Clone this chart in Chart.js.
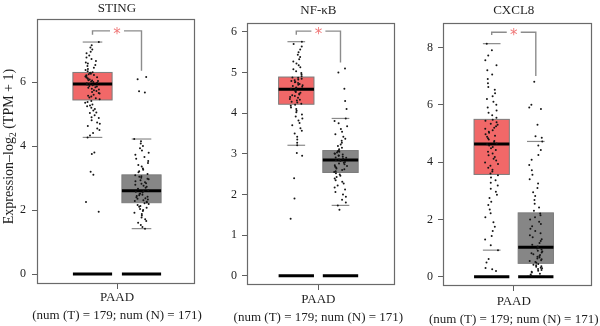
<!DOCTYPE html>
<html>
<head>
<meta charset="utf-8">
<script src="https://cdn.jsdelivr.net/npm/chart.js@4/dist/chart.umd.min.js"></script>
<style>
  html, body { margin: 0; padding: 0; background: #fff; }
  #wrap { position: relative; width: 600px; height: 326px; overflow: hidden; background: #fff; }
  #wrap canvas { position: absolute; top: 0; }
</style>
</head>
<body>
<div id="wrap">
  <canvas id="p0" width="215" height="326" style="left:0px"></canvas>
  <canvas id="p1" width="215" height="326" style="left:200px"></canvas>
  <canvas id="p2" width="200" height="326" style="left:400px"></canvas>
</div>
<script>
// ---- data -------------------------------------------------------------
const genes = ['STING', 'NF-κB', 'CXCL8'];
const groupNames = ['T', 'N'];
const groupPos = [1, 2];
const xTickLabel = ['PAAD', '(num (T) = 179; num (N) = 171)'];
const yAxisTitle = ['Expression–log', '2', ' (TPM + 1)'];
const yTickValues = [[0, 2, 4, 6], [0, 1, 2, 3, 4, 5, 6], [0, 2, 4, 6, 8]];
const yRangeMin = [-0.31, -0.23, -0.32];
const yRangeMax = [7.97, 6.22, 8.85];

// box statistics, one entry per gene
const tumorQ1 = [5.44, 4.22, 3.57];
const tumorMedian = [5.94, 4.59, 4.63];
const tumorQ3 = [6.30, 4.89, 5.49];
const tumorWhiskerLow = [4.27, 3.21, 0.93];
const tumorWhiskerHigh = [7.25, 5.76, 8.13];
const normalQ1 = [2.23, 2.54, 0.47];
const normalMedian = [2.60, 2.85, 1.03];
const normalQ3 = [3.10, 3.08, 2.23];
const normalWhiskerLow = [1.42, 1.73, 0.02];
const normalWhiskerHigh = [4.22, 3.87, 4.72];

// significance bracket levels
const bracketLevel = [7.60, 6.02, 8.53];
const bracketTumorEnd = [7.48, 5.93, 8.43];
const bracketNormalEnd = [6.35, 5.25, 7.00];
const significance = ['*', '*', '*'];

// individual samples, log2(TPM + 1)
const stingTumor = [1.95, 2.25, 3.1, 3.2, 3.75, 3.8,
  4.27, 4.33, 4.41, 4.5, 4.55, 4.63, 4.7, 4.74, 4.81, 4.88, 4.9, 4.96, 5.03, 5.05, 5.11, 5.16, 5.2, 5.24, 5.27, 5.3, 5.35, 5.38, 5.41,
  5.46, 5.49, 5.52, 5.55, 5.57, 5.6, 5.64, 5.66, 5.69, 5.72, 5.74, 5.77, 5.79, 5.82, 5.84, 5.86, 5.88, 5.9, 5.92, 5.93,
  5.95, 5.96, 5.98, 6.0, 6.02, 6.03, 6.05, 6.06, 6.08, 6.1, 6.12, 6.14, 6.15, 6.17, 6.19, 6.21, 6.22, 6.24, 6.26, 6.28, 6.29,
  6.31, 6.34, 6.38, 6.41, 6.45, 6.5, 6.53, 6.58, 6.61, 6.66, 6.72, 6.77, 6.83, 6.9, 6.95, 7.02, 7.08, 7.15, 7.25];
const stingNormal = [1.42, 1.47, 1.53, 1.6, 1.66, 1.71, 1.77, 1.83, 1.88, 1.92, 1.97, 2.0, 2.03, 2.07, 2.1, 2.13, 2.16, 2.19, 2.21,
  2.24, 2.26, 2.28, 2.31, 2.33, 2.35, 2.37, 2.4, 2.42, 2.44, 2.46, 2.48, 2.5, 2.52, 2.55, 2.57, 2.59,
  2.62, 2.65, 2.67, 2.7, 2.73, 2.76, 2.79, 2.82, 2.84, 2.87, 2.9, 2.93, 2.96, 2.98, 3.01, 3.04, 3.06, 3.09,
  3.13, 3.18, 3.21, 3.26, 3.3, 3.36, 3.41, 3.47, 3.53, 3.6, 3.66, 3.73, 3.79, 3.86, 3.93, 4.0, 4.08, 4.15, 4.22,
  5.67, 5.71, 6.09, 6.16];
const nfkbTumor = [1.4, 1.9, 2.4, 2.95, 3.02,
  3.21, 3.27, 3.35, 3.42, 3.5, 3.57, 3.63, 3.7, 3.76, 3.82, 3.87, 3.92, 3.97, 4.02, 4.06, 4.1, 4.14, 4.18, 4.21,
  4.23, 4.26, 4.28, 4.31, 4.33, 4.35, 4.38, 4.4, 4.42, 4.44, 4.46, 4.48, 4.5, 4.52, 4.54, 4.56, 4.58,
  4.6, 4.62, 4.63, 4.65, 4.67, 4.69, 4.7, 4.72, 4.74, 4.76, 4.77, 4.79, 4.81, 4.83, 4.85, 4.87, 4.88,
  4.91, 4.95, 4.99, 5.03, 5.08, 5.13, 5.18, 5.22, 5.27, 5.33, 5.38, 5.44, 5.5, 5.57, 5.64, 5.7, 5.76];
const nfkbNormal = [1.62,
  1.73, 1.8, 1.87, 1.94, 2.0, 2.06, 2.12, 2.17, 2.22, 2.27, 2.31, 2.35, 2.39, 2.43, 2.46, 2.49, 2.52,
  2.55, 2.57, 2.6, 2.62, 2.64, 2.66, 2.68, 2.7, 2.72, 2.74, 2.76, 2.78, 2.8, 2.82, 2.84,
  2.86, 2.88, 2.9, 2.91, 2.93, 2.95, 2.96, 2.98, 3.0, 3.01, 3.03, 3.05, 3.06, 3.08,
  3.11, 3.15, 3.19, 3.23, 3.27, 3.32, 3.37, 3.42, 3.48, 3.54, 3.61, 3.68, 3.75, 3.81, 3.87,
  4.1, 4.3, 4.6, 5.0, 5.1];
const cxcl8Tumor = [0.2, 0.26, 0.31, 0.5, 0.62,
  0.93, 1.1, 1.3, 1.42, 1.6, 1.75, 1.9, 2.08, 2.22, 2.35, 2.5, 2.62, 2.75, 2.86, 2.97, 3.07, 3.18, 3.28, 3.37, 3.46, 3.54,
  3.6, 3.67, 3.73, 3.8, 3.87, 3.93, 3.99, 4.06, 4.12, 4.18, 4.24, 4.3, 4.36, 4.42, 4.48, 4.53, 4.58, 4.62,
  4.65, 4.7, 4.74, 4.79, 4.83, 4.88, 4.92, 4.97, 5.02, 5.06, 5.11, 5.16, 5.2, 5.25, 5.3, 5.34, 5.39, 5.44, 5.48,
  5.55, 5.63, 5.72, 5.8, 5.9, 6.0, 6.1, 6.2, 6.3, 6.4, 6.52, 6.62, 6.75, 6.9, 7.05, 7.2, 7.38, 7.55, 7.72, 7.9, 8.13];
const cxcl8Normal = [0.04, 0.08, 0.11, 0.15, 0.18, 0.21, 0.24, 0.27, 0.3, 0.32, 0.35, 0.37, 0.4, 0.42, 0.45,
  0.49, 0.52, 0.55, 0.58, 0.61, 0.64, 0.67, 0.7, 0.73, 0.76, 0.79, 0.82, 0.85, 0.88, 0.91, 0.95, 0.99, 1.02,
  1.06, 1.12, 1.18, 1.25, 1.31, 1.38, 1.45, 1.52, 1.6, 1.68, 1.76, 1.84, 1.92, 2.0, 2.08, 2.15, 2.21,
  2.3, 2.42, 2.55, 2.68, 2.82, 2.95, 3.1, 3.25, 3.4, 3.56, 3.72, 3.9, 4.08, 4.25, 4.42, 4.58, 4.72,
  4.85, 4.9, 5.3, 5.85, 5.9, 6.0, 6.8];

const tumorSamples = [stingTumor, nfkbTumor, cxcl8Tumor];
const normalSamples = [stingNormal, nfkbNormal, cxcl8Normal];

// ---- panel layout (page pixels) ---------------------------------------
const panelLayout = [
  { canvas: 'p0', offset: 0,   width: 215, left: 37,  right: 195, top: 19, bottom: 284, xMin: -0.133, xMax: 3.092, titleBase: 12,   tickPad: 6, labelPad: 0 },
  { canvas: 'p1', offset: 200, width: 215, left: 247, right: 395, top: 23, bottom: 285, xMin: -0.115, xMax: 3.233, titleBase: 13.5, tickPad: 5, labelPad: 1 },
  { canvas: 'p2', offset: 400, width: 200, left: 443, right: 592, top: 23, bottom: 286, xMin: -0.104, xMax: 3.274, titleBase: 14,   tickPad: 5, labelPad: 2 }
];

const SERIF = "'Liberation Serif', 'DejaVu Serif', serif";
const TEXT = '#1e1e1e';
const AXIS = '#5e5e5e';
const TUMOR_FILL = '#F16868';
const NORMAL_FILL = '#868686';
const BOX_HALF = 0.4;
const CAP_HALF = 0.2;

// sideways scatter of each sample around its group centre (deterministic hash)
function spread(i, g) {
  const h = Math.sin((i + 1) * 12.9898 + g * 78.233) * 43758.5453;
  return ((h - Math.floor(h)) - 0.5) * 0.3;
}

function line(ctx, x1, y1, x2, y2) {
  ctx.beginPath();
  ctx.moveTo(x1, y1);
  ctx.lineTo(x2, y2);
  ctx.stroke();
}

const boxPlot = {
  id: 'boxPlot',
  beforeDatasetsDraw(chart, args, o) {
    const { ctx, scales: { x, y } } = chart;
    const g = o.gene;
    const groups = [
      { pos: groupPos[0], q1: tumorQ1[g], med: tumorMedian[g], q3: tumorQ3[g], lo: tumorWhiskerLow[g], hi: tumorWhiskerHigh[g], fill: TUMOR_FILL },
      { pos: groupPos[1], q1: normalQ1[g], med: normalMedian[g], q3: normalQ3[g], lo: normalWhiskerLow[g], hi: normalWhiskerHigh[g], fill: NORMAL_FILL }
    ];
    ctx.save();
    groups.forEach(s => {
      const xl = x.getPixelForValue(s.pos - BOX_HALF);
      const xr = x.getPixelForValue(s.pos + BOX_HALF);
      const yq1 = y.getPixelForValue(s.q1);
      const yq3 = y.getPixelForValue(s.q3);
      const ym = y.getPixelForValue(s.med);
      ctx.fillStyle = s.fill;
      ctx.fillRect(xl, yq3, xr - xl, yq1 - yq3);
      ctx.strokeStyle = '#7c7c7c';
      ctx.lineWidth = 1;
      ctx.strokeRect(xl, yq3, xr - xl, yq1 - yq3);
      ctx.strokeStyle = '#000';
      ctx.lineWidth = 3;
      line(ctx, xl, ym, xr, ym);
      // whisker caps
      ctx.strokeStyle = '#8a8a8a';
      ctx.lineWidth = 1.2;
      const cl = x.getPixelForValue(s.pos - CAP_HALF);
      const cr = x.getPixelForValue(s.pos + CAP_HALF);
      line(ctx, cl, y.getPixelForValue(s.hi), cr, y.getPixelForValue(s.hi));
      line(ctx, cl, y.getPixelForValue(s.lo), cr, y.getPixelForValue(s.lo));
      // bar at zero expression
      ctx.strokeStyle = '#000';
      ctx.lineWidth = 3;
      line(ctx, xl, y.getPixelForValue(0), xr, y.getPixelForValue(0));
    });
    ctx.restore();
  },
  afterDatasetsDraw(chart, args, o) {
    const { ctx, chartArea: a, scales: { x, y } } = chart;
    const g = o.gene;
    ctx.save();
    // significance bracket
    const x1 = x.getPixelForValue(groupPos[0]);
    const x2 = x.getPixelForValue(groupPos[1]);
    const xc = x.getPixelForValue((groupPos[0] + groupPos[1]) / 2);
    const yl = y.getPixelForValue(bracketLevel[g]);
    ctx.strokeStyle = '#8c8c8c';
    ctx.lineWidth = 1.4;
    ctx.beginPath();
    ctx.moveTo(x1, y.getPixelForValue(bracketTumorEnd[g]));
    ctx.lineTo(x1, yl);
    ctx.lineTo(xc - 7, yl);
    ctx.stroke();
    ctx.beginPath();
    ctx.moveTo(xc + 7, yl);
    ctx.lineTo(x2, yl);
    ctx.lineTo(x2, y.getPixelForValue(bracketNormalEnd[g]));
    ctx.stroke();
    ctx.fillStyle = '#F07878';
    ctx.font = "15px 'DejaVu Sans', sans-serif";
    ctx.textAlign = 'center';
    ctx.textBaseline = 'alphabetic';
    const m = ctx.measureText(significance[g]);
    ctx.fillText(significance[g], xc, yl + (m.actualBoundingBoxAscent - m.actualBoundingBoxDescent) / 2);
    // plot frame
    ctx.strokeStyle = '#6a6a6a';
    ctx.lineWidth = 1.2;
    ctx.strokeRect(Math.round(a.left) + 0.5, Math.round(a.top) + 0.5, Math.round(a.width) - 1, Math.round(a.height) - 1);
    ctx.restore();
  },
  afterDraw(chart, args, o) {
    const { ctx, chartArea: a, scales: { x } } = chart;
    const g = o.gene;
    ctx.save();
    ctx.fillStyle = TEXT;
    ctx.font = '13px ' + SERIF;
    ctx.textAlign = 'center';
    ctx.textBaseline = 'alphabetic';
    ctx.fillText(genes[g], x.getPixelForValue(1.5), o.titleBase);
    if (g === 0) {
      // rotated y-axis title with subscript
      const main = '14px ' + SERIF;
      const sub = '9.5px ' + SERIF;
      ctx.font = main;
      const w0 = ctx.measureText(yAxisTitle[0]).width;
      const w2 = ctx.measureText(yAxisTitle[2]).width;
      ctx.font = sub;
      const w1 = ctx.measureText(yAxisTitle[1]).width;
      const total = w0 + w1 + w2;
      ctx.translate(9.5, (a.top + a.bottom) / 2 - 5);
      ctx.rotate(-Math.PI / 2);
      ctx.textAlign = 'left';
      ctx.textBaseline = 'middle';
      let cx = -total / 2;
      ctx.font = main;
      ctx.fillText(yAxisTitle[0], cx, 0);
      cx += w0;
      ctx.font = sub;
      ctx.fillText(yAxisTitle[1], cx, 3.5);
      cx += w1;
      ctx.font = main;
      ctx.fillText(yAxisTitle[2], cx, 0);
    }
    ctx.restore();
  }
};

panelLayout.forEach((p, g) => {
  const canvas = document.getElementById(p.canvas);
  const pointsFor = (vals, pos, k) => vals.map((v, i) => ({ x: pos + spread(i, g * 2 + k), y: v }));
  new Chart(canvas, {
    type: 'scatter',
    data: {
      datasets: [
        { label: groupNames[0], data: pointsFor(tumorSamples[g], groupPos[0], 0) },
        { label: groupNames[1], data: pointsFor(normalSamples[g], groupPos[1], 1) }
      ]
    },
    options: {
      responsive: false,
      devicePixelRatio: 1,
      animation: false,
      events: [],
      layout: {
        autoPadding: false,
        padding: { left: 0, right: p.width - (p.right - p.offset), top: p.top, bottom: 0 }
      },
      elements: {
        point: { radius: 1, borderWidth: 0, backgroundColor: '#161616', hoverRadius: 1 }
      },
      plugins: {
        legend: { display: false },
        tooltip: { enabled: false },
        title: { display: false },
        boxPlot: { gene: g, titleBase: p.titleBase }
      },
      scales: {
        x: {
          type: 'linear',
          min: p.xMin,
          max: p.xMax,
          afterBuildTicks(scale) { scale.ticks = [{ value: (groupPos[0] + groupPos[1]) / 2 }]; },
          afterFit(scale) {
            scale.height = 326 - p.bottom;
            scale.paddingLeft = 0;
            scale.paddingRight = 0;
          },
          grid: { display: true, drawOnChartArea: false, drawTicks: true, tickLength: 5, color: AXIS, lineWidth: 1 },
          border: { display: false },
          ticks: {
            autoSkip: false,
            maxRotation: 0,
            padding: p.labelPad,
            color: TEXT,
            font: { family: SERIF, size: 13, lineHeight: 1.35 },
            callback: () => xTickLabel
          }
        },
        y: {
          type: 'linear',
          min: yRangeMin[g],
          max: yRangeMax[g],
          afterBuildTicks(scale) { scale.ticks = yTickValues[g].map(v => ({ value: v })); },
          afterFit(scale) {
            scale.width = p.left - p.offset;
            scale.paddingTop = 0;
            scale.paddingBottom = 0;
          },
          grid: { display: true, drawOnChartArea: false, drawTicks: true, tickLength: 5, color: AXIS, lineWidth: 1 },
          border: { display: false },
          ticks: {
            padding: p.tickPad,
            color: TEXT,
            font: { family: SERIF, size: 12 },
            callback: v => String(v)
          }
        }
      }
    },
    plugins: [boxPlot]
  });
});
</script>
</body>
</html>
